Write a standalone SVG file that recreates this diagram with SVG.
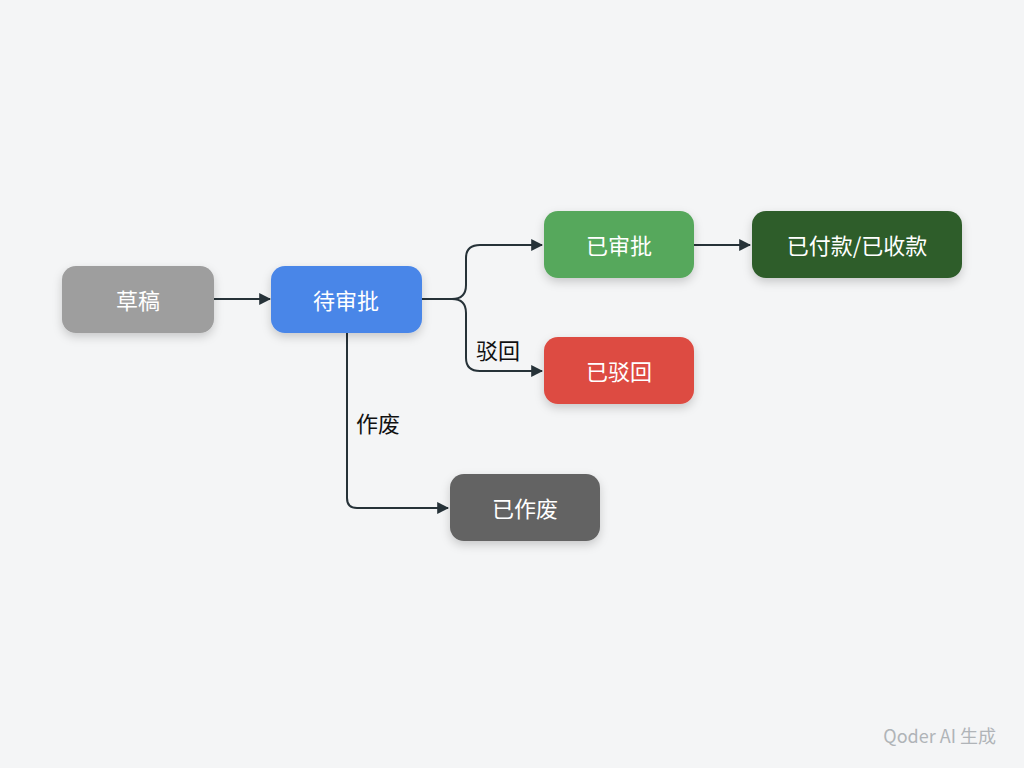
<svg xmlns="http://www.w3.org/2000/svg" width="1024" height="768" viewBox="0 0 1024 768">
<style>
.n text{font-family:"Noto Sans CJK SC","Liberation Sans",sans-serif;font-size:22px;fill:#fff;text-anchor:middle;dominant-baseline:central}
.c path{fill:none;stroke:#263238;stroke-width:2}
.lbl{font-family:"Noto Sans CJK SC","Liberation Sans",sans-serif;font-size:22px;fill:#111}
</style>
<defs>
<marker id="a" viewBox="0 0 10 10" refX="9" refY="5" markerWidth="6" markerHeight="6" orient="auto"><path d="M0 0L10 5L0 10z" fill="#263238"/></marker>
<filter id="s" x="-20%" y="-20%" width="140%" height="160%"><feDropShadow dx="0" dy="4" stdDeviation="5" flood-opacity="0.18"/></filter>
</defs>
<rect width="1024" height="768" fill="#f4f5f6"/>
<g class="c">
<path d="M214 299H270" marker-end="url(#a)"/>
<path d="M422 299H452Q466 299 466 285V258Q466 245 480 245H542" marker-end="url(#a)"/>
<path d="M452 299Q466 299 466 313V358Q466 371 480 371H542" marker-end="url(#a)"/>
<path d="M694 245H750" marker-end="url(#a)"/>
<path d="M347 333V498Q347 508 357 508H448" marker-end="url(#a)"/>
</g>
<text class="lbl" x="476" y="359">驳回</text>
<text class="lbl" x="356" y="432">作废</text>
<g id="draft" class="n"><rect x="62" y="266" width="152" height="67" rx="14" fill="#9e9e9e" filter="url(#s)"/><text x="138" y="299">草稿</text></g>
<g id="pending" class="n"><rect x="271" y="266" width="151" height="67" rx="14" fill="#4a86e8" filter="url(#s)"/><text x="346" y="299">待审批</text></g>
<g id="approved" class="n"><rect x="544" y="211" width="150" height="67" rx="14" fill="#57a85c" filter="url(#s)"/><text x="619" y="244">已审批</text></g>
<g id="paid" class="n"><rect x="752" y="211" width="210" height="67" rx="14" fill="#2f5d2a" filter="url(#s)"/><text x="857" y="244">已付款/已收款</text></g>
<g id="rejected" class="n"><rect x="544" y="337" width="150" height="67" rx="14" fill="#dd4b42" filter="url(#s)"/><text x="619" y="370">已驳回</text></g>
<g id="void" class="n"><rect x="450" y="474" width="150" height="67" rx="14" fill="#636363" filter="url(#s)"/><text x="525" y="507">已作废</text></g>
<text x="996" y="743" text-anchor="end" font-family="Noto Sans CJK SC,Liberation Sans,sans-serif" font-size="18" fill="#b0b4b8">Qoder AI 生成</text>
</svg>
